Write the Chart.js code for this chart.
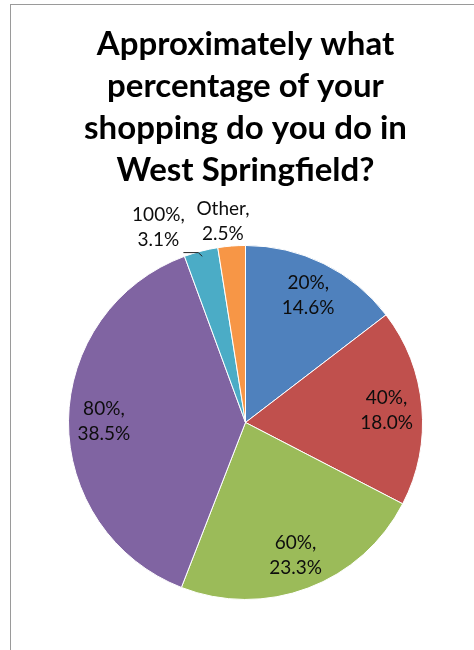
<!DOCTYPE html>
<html>
<head>
<meta charset="utf-8">
<script src="https://cdn.jsdelivr.net/npm/chart.js@4.4.1/dist/chart.umd.min.js"></script>
<style>
html, body { margin: 0; padding: 0; background: #fff; overflow: hidden; }
#frame { position: absolute; left: 10px; top: 4px; width: 700px; height: 800px; border: 1px solid #9a9a9a; }
#pie { position: absolute; left: 0; top: 0; }
</style>
</head>
<body>
<div id="frame"></div>
<canvas id="pie" width="474" height="650"></canvas>
<script>
const categories = ['20%', '40%', '60%', '80%', '100%', 'Other'];
const shares = [14.6, 18.0, 23.3, 38.5, 3.1, 2.5];
const sliceColors = ['#4F81BD', '#C0504D', '#9BBB59', '#8064A2', '#4BACC6', '#F79646'];
const titleLines = ['Approximately what', 'percentage of your', 'shopping do you do in', 'West Springfield?'];

// small slices get their label outside the pie: [radius factor, angle nudge in degrees]
const outside = { 4: [1.206, -9.5], 5: [1.143, -1.9] };

const sliceLabels = {
  id: 'sliceLabels',
  afterDatasetsDraw(chart) {
    const c = chart.ctx;
    const arcs = chart.getDatasetMeta(0).data;
    c.save();
    c.font = '19px Lato';
    c.fillStyle = '#0d0d0d';
    c.textAlign = 'center';
    c.textBaseline = 'middle';
    arcs.forEach((arc, i) => {
      const p = arc.getProps(['x', 'y', 'startAngle', 'endAngle', 'outerRadius'], true);
      const mid = (p.startAngle + p.endAngle) / 2;
      let lx, ly;
      if (outside[i]) {
        const a = mid + outside[i][1] * Math.PI / 180;
        lx = p.x + Math.cos(a) * p.outerRadius * outside[i][0];
        ly = p.y + Math.sin(a) * p.outerRadius * outside[i][0];
      } else {
        lx = p.x + Math.cos(mid) * p.outerRadius * 0.8;
        ly = p.y + Math.sin(mid) * p.outerRadius * 0.8;
      }
      c.fillText(categories[i] + ',', lx, ly - 12.5);
      c.fillText(shares[i].toFixed(1) + '%', lx, ly + 12.5);
      if (i === 4) {
        // leader line from the label to the slice
        const ex = p.x + Math.cos(mid) * p.outerRadius * 0.97;
        const ey = p.y + Math.sin(mid) * p.outerRadius * 0.97;
        c.strokeStyle = '#222';
        c.lineWidth = 1;
        c.beginPath();
        c.moveTo(lx + 25, ly + 25);
        c.lineTo(ex - 4, ly + 25);
        c.lineTo(ex, ey);
        c.stroke();
      }
    });
    c.restore();
  }
};

new Chart(document.getElementById('pie'), {
  type: 'pie',
  data: {
    labels: categories,
    datasets: [{
      data: shares,
      backgroundColor: sliceColors,
      borderColor: '#ffffff',
      borderWidth: 1
    }]
  },
  options: {
    responsive: false,
    animation: false,
    devicePixelRatio: 1,
    layout: { padding: { top: 0, bottom: 50, left: 68, right: 51 } },
    plugins: {
      legend: { display: false },
      tooltip: { enabled: false },
      title: {
        display: true,
        text: titleLines,
        color: '#000',
        font: { family: 'Lato', size: 33, weight: 'bold', lineHeight: 1.28 },
        padding: { top: 23, bottom: 53 }
      }
    }
  },
  plugins: [sliceLabels]
});
</script>
</body>
</html>
